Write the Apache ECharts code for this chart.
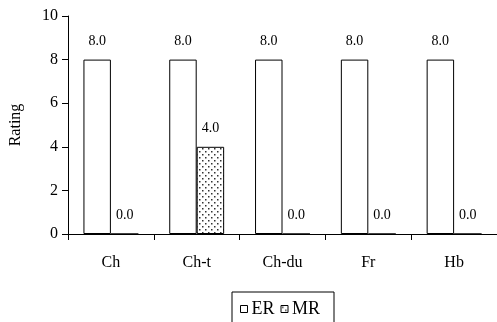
<!DOCTYPE html>
<html><head><meta charset="utf-8">
<script src="https://cdn.jsdelivr.net/npm/echarts@6/dist/echarts.min.js"></script>
<style>html,body{margin:0;padding:0;background:#fff}#c{width:497px;height:322px}</style>
</head><body><div id="c"></div>
<script>
const categories = ['Ch', 'Ch-t', 'Ch-du', 'Fr', 'Hb'];
const erValues = [8.0, 8.0, 8.0, 8.0, 8.0];
const mrValues = [0.0, 4.0, 0.0, 0.0, 0.0];
const yTicks = [0, 2, 4, 6, 8, 10];

const pc = document.createElement('canvas');
pc.width = 6; pc.height = 6;
const g = pc.getContext('2d');
g.fillStyle = '#fff'; g.fillRect(0, 0, 6, 6);
g.fillStyle = '#333';
g.fillRect(1, 1, 1.5, 1.5);
g.fillRect(4, 4, 1.5, 1.5);

const font = 'Liberation Serif';
const chart = echarts.init(document.getElementById('c'));
const lbl = {show: true, position: 'top', distance: 11, fontFamily: font, fontSize: 14, color: '#000',
  formatter: p => p.value.toFixed(1)};
chart.setOption({
  animation: false,
  textStyle: {fontFamily: font},
  grid: {left: 68, right: -6, top: 16, bottom: 88, containLabel: false},
  legend: {
    top: 292, left: 232, itemWidth: 7, itemHeight: 7, itemGap: 6, icon: 'rect',
    borderColor: '#000', borderWidth: 1, padding: [8, 14, 20, 8],
    itemStyle: {borderWidth: 1, borderColor: '#000'},
    textStyle: {fontFamily: font, fontSize: 18, color: '#000', padding: [0, 0, 0, -1]},
    data: ['ER', 'MR']
  },
  xAxis: {
    type: 'category', data: categories,
    axisLine: {lineStyle: {color: '#000', width: 1}},
    axisTick: {show: true, length: 6, lineStyle: {color: '#000'}},
    axisLabel: {fontFamily: font, fontSize: 16, color: '#000', margin: 21}
  },
  yAxis: {
    type: 'value', min: yTicks[0], max: yTicks[yTicks.length - 1], interval: 2,
    name: 'Rating', nameLocation: 'middle', nameGap: 44, nameRotate: 90,
    nameTextStyle: {fontFamily: font, fontSize: 16, color: '#000'},
    axisLine: {show: true, lineStyle: {color: '#000', width: 1}},
    axisTick: {show: true, length: 6, lineStyle: {color: '#000'}},
    splitLine: {show: false},
    axisLabel: {fontFamily: font, fontSize: 16, color: '#000', margin: 10}
  },
  series: [
    {name: 'ER', type: 'bar', data: erValues, barGap: '0%', barCategoryGap: '36%',
     itemStyle: {color: '#fff', borderColor: '#000', borderWidth: 1}, label: lbl},
    {name: 'MR', type: 'bar', data: mrValues,
     itemStyle: {color: {image: pc, repeat: 'repeat'}, borderColor: '#000', borderWidth: 1}, label: lbl}
  ]
});
</script></body></html>
